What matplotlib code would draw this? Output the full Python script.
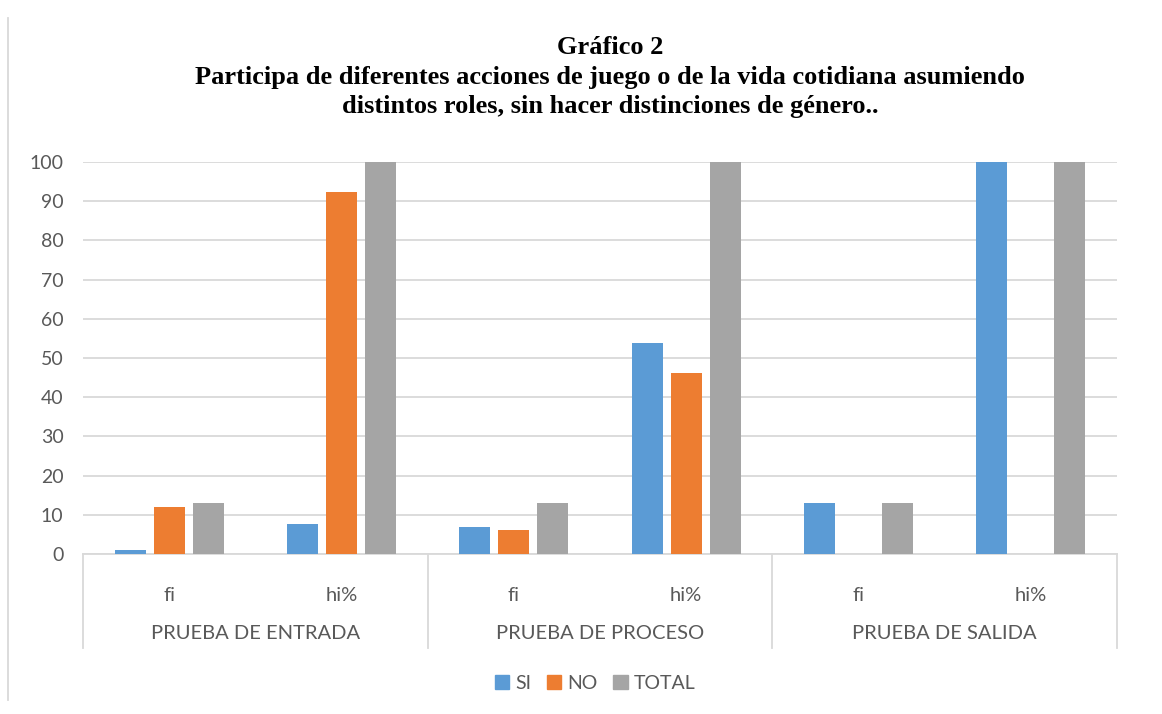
import matplotlib
matplotlib.use("Agg")
import matplotlib.pyplot as plt
from matplotlib.lines import Line2D
from matplotlib.patches import Patch
import numpy as np

groups = ["PRUEBA DE ENTRADA", "PRUEBA DE PROCESO", "PRUEBA DE SALIDA"]
subcats = ["fi", "hi%", "fi", "hi%", "fi", "hi%"]
si = [1, 7.69, 7, 53.85, 13, 100]
no = [12, 92.31, 6, 46.15, 0, 0]
total = [13, 100, 13, 100, 13, 100]
series_names = ["SI", "NO", "TOTAL"]
colors = ["#5B9BD5", "#ED7D31", "#A5A5A5"]

plt.rcParams["font.family"] = ["Lato", "DejaVu Sans"]
text_grey = "#595959"
line_grey = "#D9D9D9"

fig = plt.figure(figsize=(11.62, 7.14), dpi=100)
ax = fig.add_axes([0.0714, 0.2241, 0.8899, 0.5490])

x = np.arange(len(subcats))
width = 0.18
step = 0.226
for i, (vals, name, c) in enumerate(zip([si, no, total], series_names, colors)):
    ax.bar(x + (i - 1) * step, vals, width=width, color=c, label=name, zorder=3)

ax.set_xlim(-0.5, len(subcats) - 0.5)
ax.set_ylim(0, 100)
ax.set_yticks(np.arange(0, 101, 10))
ax.yaxis.grid(True, color=line_grey, linewidth=1.3, zorder=0)
ax.set_axisbelow(True)
for s in ["top", "right", "left"]:
    ax.spines[s].set_visible(False)
ax.spines["bottom"].set_color(line_grey)
ax.spines["bottom"].set_linewidth(1.3)
ax.tick_params(axis="y", length=0, labelsize=14, labelcolor=text_grey, pad=14)
ax.tick_params(axis="x", length=0, labelbottom=False)

# two-level category axis: sub labels, group labels and separators
trans = ax.get_xaxis_transform()
for xi, lab in zip(x, subcats):
    ax.text(xi, -0.105, lab, transform=trans, ha="center", va="center",
            fontsize=14.5, color=text_grey)
for gi, g in enumerate(groups):
    ax.text(2 * gi + 0.5, -0.203, g, transform=trans, ha="center", va="center",
            fontsize=14.5, color=text_grey)
for b in [-0.5, 1.5, 3.5, 5.5]:
    ax.add_line(Line2D([b, b], [0, -0.24], transform=trans, color=line_grey,
                       linewidth=1.3, clip_on=False))

handles = [Patch(color=c) for c in colors]
fig.legend(handles, series_names, loc="center", bbox_to_anchor=(0.512, 0.043),
           ncol=3, frameon=False, fontsize=14, handlelength=0.75, handleheight=0.75,
           handletextpad=0.3, columnspacing=0.8, labelcolor=text_grey)

title_kw = dict(ha="center", va="center", fontsize=19, fontweight="bold",
                family=["Liberation Serif", "DejaVu Serif"], color="black")
fig.text(0.525, 0.933, "Gráfico 2", **title_kw)
fig.text(0.525, 0.891, "Participa de diferentes acciones de juego o de la vida cotidiana asumiendo", **title_kw)
fig.text(0.525, 0.851, "distintos roles, sin hacer distinciones de género..", **title_kw)

# chart frame edge on the left
fig.add_artist(Line2D([0.007, 0.007], [0.02, 0.975], transform=fig.transFigure,
                      color=line_grey, linewidth=1.3))

fig.savefig("out.png", dpi=100)
